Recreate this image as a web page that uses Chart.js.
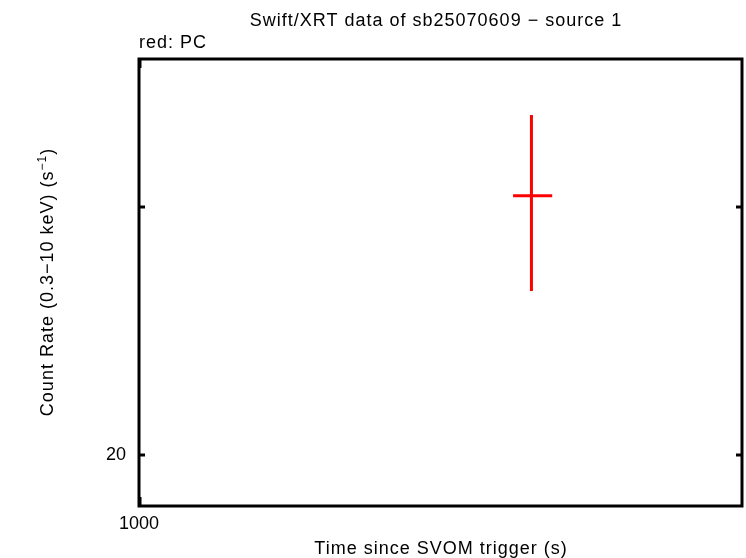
<!DOCTYPE html>
<html>
<head>
<meta charset="utf-8">
<script src="https://cdn.jsdelivr.net/npm/chart.js@4.4.1/dist/chart.umd.min.js"></script>
<style>
html,body{margin:0;padding:0;background:#fff;}
#caixa{width:746px;height:558px;}
</style>
</head>
<body>
<div id="caixa"><canvas id="grafico" width="746" height="558"></canvas></div>
<script>

// valores (escala log nos dois eixos)
const tempos=[1466];
const temposMin=[1440];
const temposMax=[1496];
const taxas=[30.55];
const taxasMin=[26.15];
const taxasMax=[34.87];

const ticksX=[1000];
const rotulosX=["1000"];
const ticksY=[20,30];
const rotulosY=["20",""];

const titulo="Swift/XRT data of sb25070609 \u2212 source 1";
const legenda="red: PC";
const tituloX="Time since SVOM trigger (s)";
const tituloY="Count Rate (0.3\u221210 keV) (s";

const fonte='"Liberation Sans", Arial, Helvetica, sans-serif';

///////////////////////////////////////////////////////////////

const barrasErro={
    id:"barrasErro",
    afterDatasetsDraw(chart){
        const ctx=chart.ctx;
        const sx=chart.scales.x;
        const sy=chart.scales.y;
        ctx.save();
        ctx.strokeStyle="#ff0000";
        ctx.lineWidth=3;
        for(let i=0;i<tempos.length;i++){
            const x=sx.getPixelForValue(tempos[i]);
            const y=sy.getPixelForValue(taxas[i]);
            ctx.beginPath();
            ctx.moveTo(sx.getPixelForValue(temposMin[i]),y);
            ctx.lineTo(sx.getPixelForValue(temposMax[i]),y);
            ctx.moveTo(x,sy.getPixelForValue(taxasMin[i]));
            ctx.lineTo(x,sy.getPixelForValue(taxasMax[i]));
            ctx.stroke();
        }
        ctx.restore();
    }
};

///////////////////////////////////////////////////////////////

const moldura={
    id:"moldura",
    afterDraw(chart){
        const ctx=chart.ctx;
        const a=chart.chartArea;
        const sx=chart.scales.x;
        const sy=chart.scales.y;

        ctx.save();
        ctx.strokeStyle="#000";
        ctx.lineWidth=3;
        ctx.strokeRect(a.left,a.top,a.right-a.left,a.bottom-a.top);

        ctx.beginPath();
        ticksY.forEach(v=>{
            const y=sy.getPixelForValue(v);
            ctx.moveTo(a.left,y);
            ctx.lineTo(a.left+6,y);
            ctx.moveTo(a.right,y);
            ctx.lineTo(a.right-6,y);
        });
        ticksX.forEach(v=>{
            const x=sx.getPixelForValue(v)+1;
            ctx.moveTo(x,a.bottom);
            ctx.lineTo(x,a.bottom-9);
            ctx.moveTo(x,a.top);
            ctx.lineTo(x,a.top+9);
        });
        ctx.stroke();

        // textos
        ctx.fillStyle="#000";
        ctx.font="18px "+fonte;
        ctx.letterSpacing="1px";
        ctx.textBaseline="alphabetic";

        ctx.textAlign="center";
        ctx.fillText(titulo,436,26);
        ctx.fillText(tituloX,441,554);

        ctx.textAlign="left";
        ctx.fillText(legenda,139,48);

        // titulo do eixo y com expoente
        ctx.translate(53,282);
        ctx.rotate(-Math.PI/2);
        ctx.font="18px "+fonte;
        const w1=ctx.measureText(tituloY).width;
        ctx.font="12px "+fonte;
        const w2=ctx.measureText("\u22121").width;
        ctx.font="18px "+fonte;
        const w3=ctx.measureText(")").width;
        let x0=-(w1+w2+w3)/2;
        ctx.fillText(tituloY,x0,0);
        x0+=w1;
        ctx.font="12px "+fonte;
        ctx.fillText("\u22121",x0,-7);
        x0+=w2;
        ctx.font="18px "+fonte;
        ctx.fillText(")",x0,0);

        ctx.restore();
    }
};

///////////////////////////////////////////////////////////////

const ctx=document.getElementById("grafico").getContext("2d");

const grafico=new Chart(ctx,{
    type:"scatter",
    data:{
        datasets:[{
            label:"PC",
            data:tempos.map((t,i)=>({x:t,y:taxas[i]})),
            pointRadius:0,
            showLine:false
        }]
    },
    options:{
        responsive:false,
        animation:false,
        devicePixelRatio:1,
        layout:{
            padding:{top:59,right:4,left:0,bottom:0}
        },
        plugins:{
            legend:{display:false},
            title:{display:false},
            tooltip:{enabled:false}
        },
        scales:{
            x:{
                type:"logarithmic",
                min:1000,
                max:1800,
                bounds:"data",
                afterFit(s){ s.height=52; },
                afterBuildTicks(s){ s.ticks=ticksX.map(v=>({value:v})); },
                grid:{display:false,drawTicks:false},
                border:{display:false},
                ticks:{
                    autoSkip:false,
                    maxRotation:0,
                    padding:7,
                    color:"#000",
                    font:{family:fonte,size:18},
                    callback:(v,i)=>rotulosX[i]
                }
            },
            y:{
                type:"logarithmic",
                min:18.4,
                max:38.21,
                bounds:"data",
                afterFit(s){ s.width=139; },
                afterBuildTicks(s){ s.ticks=ticksY.map(v=>({value:v})); },
                grid:{display:false,drawTicks:false},
                border:{display:false},
                ticks:{
                    autoSkip:false,
                    padding:13,
                    color:"#000",
                    font:{family:fonte,size:18},
                    callback:(v,i)=>rotulosY[i]
                }
            }
        }
    },
    plugins:[barrasErro,moldura]
});

</script>
</body>
</html>
